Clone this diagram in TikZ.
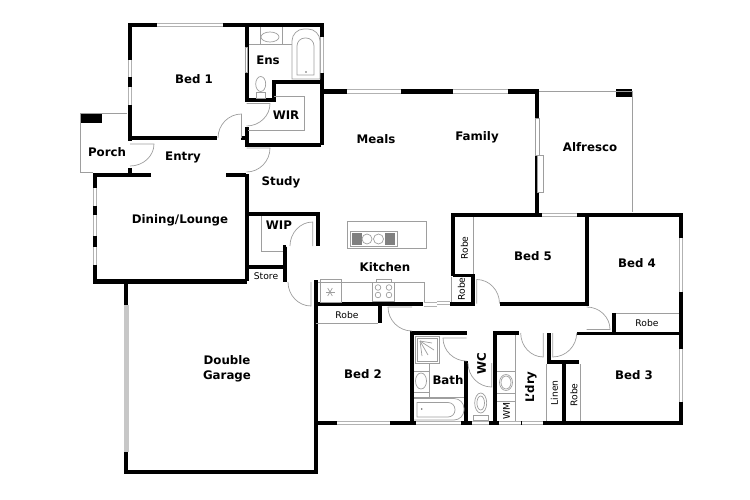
\documentclass[tikz,border=0pt]{standalone}
\usepackage{fontspec}
\setmainfont{DejaVu Sans}
\usetikzlibrary{calc}
\tikzset{
  wall/.style={line width=4.6pt, line cap=square, line join=miter},
  thinwall/.style={line width=3.6pt, line cap=square, line join=miter},
  win/.style={draw=black!30, line width=1.1pt, double=white, double distance=2.4pt},
  fix/.style={draw=black!38, line width=.7pt},
  room/.style={font=\bfseries\fontsize{11.8}{14.5}\selectfont, align=center, inner sep=0pt},
  small/.style={font=\fontsize{9.2}{11}\selectfont, inner sep=0pt},
}
\newcommand{\door}[6]{\draw[fix] (#1,#2)--(#3,#4) .. controls ($(#3,#4)+.55*(#5,#6)-.55*(#1,#2)$) and ($(#5,#6)+.55*(#3,#4)-.55*(#1,#2)$) .. (#5,#6);}
\begin{document}
\begin{tikzpicture}[x=1pt, y=-1pt]
\useasboundingbox (0,0) rectangle (750,500);
% walls
\draw[wall] (130,141)--(130,25)--(322,25)--(322,145);
\draw[thinwall] (130,138)--(217,138);
\draw[thinwall] (241,138)--(247,138);
\draw[thinwall] (247,25)--(247,100)--(274,100)--(274,82)--(321,82);
\draw[thinwall] (247,127)--(247,145)--(321,145);
\draw[wall] (322,91.5)--(537,91.5)--(537,215);
\draw[wall] (453,276)--(453,215)--(681,215)--(681,423)--(316,423);
\draw[thinwall] (453,275.5)--(473,275.5)--(473,303);
\draw[thinwall] (450,304)--(475,304);
\draw[thinwall] (500,304)--(587,304)--(587,215);
\draw[thinwall] (577,333.5)--(681,333.5);
\draw[thinwall] (614,313)--(614,333.5);
\draw[wall] (316,280)--(316,472)--(126,472)--(126,283);
\draw[thinwall] (316,304)--(423,304);
\draw[thinwall] (380,304)--(380,323);
\draw[thinwall] (412,422)--(412,333)--(467,333);
\draw[thinwall] (466,361)--(466,422);
\draw[thinwall] (495,422)--(495,333)--(519,333);
\draw[thinwall] (549,333)--(549,362)--(579,362);
\draw[thinwall] (564,362)--(564,422);
\draw[wall] (151,175)--(95,175)--(95,281.5)--(247,281.5);
\draw[thinwall] (130,168)--(130,175);
\draw[wall] (226,175)--(246,175);
\draw[thinwall] (247,174)--(247,281);
\draw[thinwall] (247,214)--(318,214)--(318,246);
\draw[thinwall] (247,267)--(285,267);
\draw[wall] (286,247)--(285,247)--(285,282);
\fill (80,113) rectangle (102,123);
\fill (616,89.5) rectangle (632,97);
% windows
\foreach \y/\yy in {60/77,87/105}
{
    \draw[win] (130,\y)--(130,\yy);
}
\foreach \y/\yy in {188/206,215/236,247/265}
{
    \draw[win] (95,\y)--(95,\yy);
}
\foreach \x/\xx in {157/223}
{
    \draw[win] (\x,25)--(\xx,25);
}
\foreach \x/\xx in {347/401,453/508}
{
    \draw[win] (\x,91.5)--(\xx,91.5);
}
\foreach \x/\xx in {337/390,416/461,472/489,499/521,522/543}
{
    \draw[win] (\x,423)--(\xx,423);
}
\draw[win] (542,215)--(577,215);
\draw[win] (322,37)--(322,73);
\draw[win] (681,238)--(681,292);
\draw[win] (681,349)--(681,402);
\draw[win] (424,304.5)--(437,304.5);
\draw[win] (437,303)--(450,303);
\draw[fix, fill=white] (535,118) rectangle (539.5,155);
\draw[fix, fill=white] (537,155) rectangle (543.5,192);
\fill[black!22] (124,305) rectangle (128.5,452);
\draw[fix, fill=white] (245.5,47) rectangle (247.5,72);
% doors
\door{246.5}{103.5}{270}{103.5}{246.5}{126}
\door{241.5}{138}{241.5}{114}{218}{138}
\door{246.5}{148}{270}{148}{246.5}{172}
\door{130}{144}{154}{144}{130}{166}
\door{312.7}{246}{312.7}{222}{290}{246}
\door{311}{282}{311}{306}{288}{282}
\door{412}{307}{388}{307}{412}{331}
\door{466.5}{338}{443}{338}{466.5}{361}
\door{491.7}{363}{491.7}{387}{468}{363}
\door{476.7}{303.5}{476.7}{279.5}{499.5}{303.5}
\door{586.7}{329.5}{610}{329.5}{586.7}{307}
\door{543.3}{333}{543.3}{357}{520.7}{333}
\door{552.7}{333}{552.7}{357}{576.7}{333}
% outside and cupboards
\draw[fix] (127,113)--(80,113)--(80,172)--(93,172);
\draw[fix] (539,91.5)--(632,91.5)--(632,212);
\draw[fix] (274,96)--(304,96)--(304,130)--(248,130);
\draw[fix] (261,216)--(261,251)--(283,251);
\draw[fix] (316,323.5)--(378,323.5);
\draw[fix] (473.5,217)--(473.5,274);
\draw[fix] (451.5,277)--(451.5,302);
\draw[fix] (616,313)--(679,313);
\draw[fix] (546.7,364)--(546.7,421);
\draw[fix] (580.7,364)--(580.7,421);
\draw[fix] (515.7,335)--(515.7,421);
\foreach \y in {371,393,401}
{
    \draw[fix] (497,\y)--(515.7,\y);
}
\draw[fix] (506,382.5) ellipse (6.5 and 8);
\draw[fix] (506,382.5) ellipse (5 and 6.5);
% ensuite
\draw[fix] (249,44)--(292,44);
\draw[fix] (260,27)--(260,44);
\draw[fix] (282,27)--(282,44);
\draw[fix] (270,37) ellipse (9 and 5);
\draw[fix] (292,79)[rounded corners=12pt]--(292,29)--(320,29)[sharp corners]--(320,79)--cycle;
\draw[fix] (297,75)[rounded corners=8pt]--(297,38)--(314,38)[sharp corners]--(314,75)--cycle;
\fill[black!60] (306,72) circle (.8);
\draw[fix] (260.7,84) ellipse (5 and 7.5);
\draw[fix] (256,92) rectangle (265.5,98);
% bathroom
\draw[fix] (415,336) rectangle (439.5,363);
\draw[fix] (417,338) rectangle (437.5,361);
\foreach \x/\y in {432/343,434/350,428/355,422/356}
{
    \draw[fix] (420,341)--(\x,\y);
}
\draw[fix] (429.5,363)--(429.5,397.5);
\draw[fix] (414,371)--(429.5,371);
\draw[fix] (414,392)--(429.5,392);
\draw[fix] (421,381) ellipse (5.5 and 8);
\draw[fix] (414,397.5)--(464,397.5);
\draw[fix] (414,420)[rounded corners=10pt]--(464,420)--(464,398.5)--(414,398.5);
\draw[fix] (417,402.5)[rounded corners=7pt]--(455,402.5)--(455,417)[sharp corners]--(417,417)--cycle;
\fill[black!60] (421.7,409) circle (.8);
\draw[fix] (480.7,403) ellipse (6 and 10);
\draw[fix] (480.7,403) ellipse (3.8 and 7);
\draw[fix] (473.5,415) rectangle (488.5,420);
% kitchen
\draw[fix] (347,221) rectangle (426,248.5);
\draw[fix] (350,231) rectangle (397.5,246);
\fill[black!50] (352,232.5) rectangle (361.5,244.5);
\fill[black!50] (385,232.5) rectangle (394.5,244.5);
\draw[fix] (367,239) circle (5);
\draw[fix] (378.5,239) circle (5);
\draw[fix] (318,282.5)--(424,282.5)--(424,302);
\draw[fix] (320,279.5) rectangle (341.5,302);
\foreach \a in {0,60,120}
{
    \draw[fix] (330,292)++(\a:4.5)--++(\a+180:9);
}
\draw[fix] (372.5,282.5) rectangle (394.5,301.5);
\draw[fix] (376,279.5) rectangle (391,282.5);
\foreach \x in {378,389}
{
    \foreach \y in {287.5,295}
    {
        \draw[fix] (\x,\y) circle (2.8);
    }
}
% labels
\node[room] (bedone) at (194,79) {Bed 1};
\node[room] (ens) at (268,60) {Ens};
\node[room] (wir) at (286,115) {WIR};
\node[room] (porch) at (107,152) {Porch};
\node[room] (entry) at (183,157) {Entry};
\node[room] (study) at (281,182) {Study};
\node[room] (meals) at (376,139) {Meals};
\node[room] (family) at (477,137) {Family};
\node[room] (alfresco) at (590,147) {Alfresco};
\node[room] (dining) at (180,220.5) {Dining/Lounge};
\node[room] (wip) at (279,225) {WIP};
\node[room] (kitchen) at (385,267) {Kitchen};
\node[room] (bedfive) at (533,256) {Bed 5};
\node[room] (bedfour) at (637,263) {Bed 4};
\node[room] (bedthree) at (634,375) {Bed 3};
\node[room] (bedtwo) at (363,374) {Bed 2};
\node[room] (bath) at (448,380) {Bath};
\node[room, rotate=90] (wc) at (481.5,364) {WC};
\node[room, rotate=90] (ldry) at (531,387) {L'dry};
\node[room] (garage) at (227,369) {Double\\Garage};
\node[small] (store) at (266,276) {Store};
\node[small] (robekit) at (347,315) {Robe};
\node[small] (robefour) at (647,323) {Robe};
\node[small, rotate=90] (robefive) at (464.5,248) {Robe};
\node[small, rotate=90] (robehall) at (461.5,289) {Robe};
\node[small, rotate=90] (robethree) at (574,395) {Robe};
\node[small, rotate=90] (linen) at (554.5,393) {Linen};
\node[small, rotate=90] (wm) at (506.5,411) {WM};
\end{tikzpicture}
\end{document}
